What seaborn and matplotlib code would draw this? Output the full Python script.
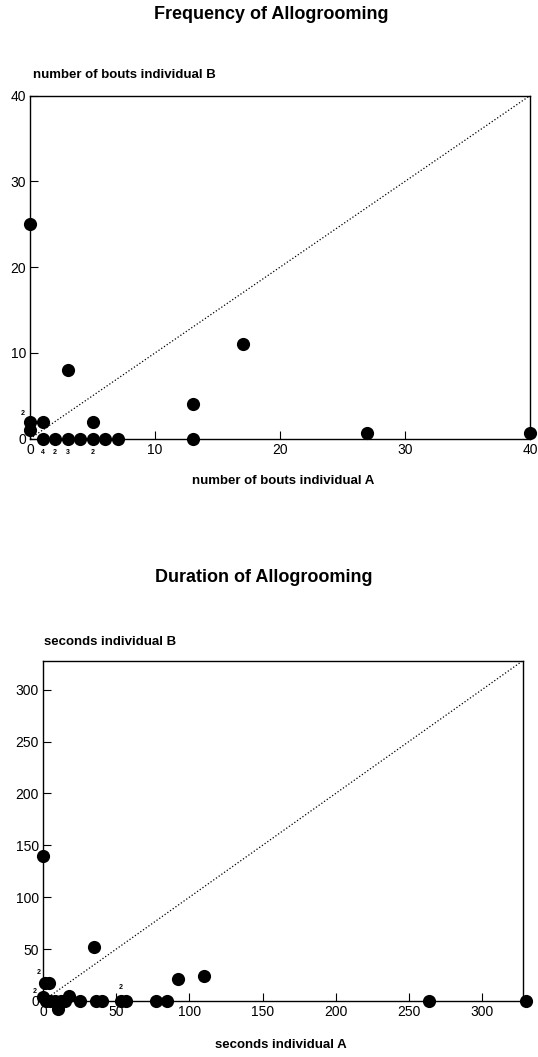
import numpy as np
import pandas as pd
import seaborn as sns
import matplotlib.pyplot as plt

# frequency of allogrooming (number of bouts)
freq_a = [0, 0, 0, 1, 3, 5, 13, 17, 27, 40, 1, 2, 3, 4, 5, 6, 7, 13]
freq_b = [25, 2, 1, 2, 8, 2, 4, 11, 0.7, 0.7, 0, 0, 0, 0, 0, 0, 0, 0]
# small multiplicity numbers written next to stacked points
freq_note_x = [-0.6, 1, 2, 3, 5]
freq_note_y = [2.9, -1.6, -1.6, -1.6, -1.6]
freq_note_txt = ['2', '4', '2', '3', '2']

# duration of allogrooming (seconds)
dur_a = [0, 35, 92, 110, 264, 330, 1, 4, 0, 2, 5, 8, 12, 15, 10, 18, 25,
         36, 40, 53, 57, 77, 85]
dur_b = [140, 52, 21, 24, 0, 0, 17, 17, 4, 0, 0, 0, 0, 0, -8, 5, 0,
         0, 0, 0, 0, 0, 0]
dur_note_x = [-3, -6, 53]
dur_note_y = [27, 9, 13]
dur_note_txt = ['2', '2', '2']

freq = pd.DataFrame({'A': freq_a, 'B': freq_b})
dur = pd.DataFrame({'A': dur_a, 'B': dur_b})

sns.set_theme(style='white')
plt.rcParams['font.family'] = ['Liberation Sans', 'DejaVu Sans']
plt.rcParams['text.color'] = 'black'

fig = plt.figure(figsize=(5.38, 10.57), dpi=100)


def panel(ax, df, lim, ticks, nx, ny, nt):
    ax.plot([0, lim], [0, lim], ls=':', color='black', lw=0.9)
    sns.scatterplot(data=df, x='A', y='B', ax=ax, color='black', s=90,
                    edgecolor='black', linewidth=0, clip_on=False, zorder=5)
    for x, y, t in zip(nx, ny, nt):
        ax.text(x, y, t, fontsize=5, fontweight='bold', ha='center',
                va='center', clip_on=False)
    ax.set_xlim(0, lim)
    ax.set_ylim(0, lim)
    ax.set_xticks(ticks)
    ax.set_yticks(ticks)
    ax.set_xlabel('')
    ax.set_ylabel('')
    ax.tick_params(direction='in', length=6, width=0.8, color='black',
                   labelsize=10, labelcolor='black', pad=3,
                   left=True, bottom=True)
    for s in ax.spines.values():
        s.set_color('black')
        s.set_linewidth(1.0)


ax1 = fig.add_axes([0.056, 0.585, 0.929, 0.3245])
panel(ax1, freq, 40, [0, 10, 20, 30, 40], freq_note_x, freq_note_y, freq_note_txt)

ax2 = fig.add_axes([0.080, 0.053, 0.892, 0.322])
panel(ax2, dur, 328, [0, 50, 100, 150, 200, 250, 300], dur_note_x, dur_note_y, dur_note_txt)

fig.text(0.505, 0.986, 'Frequency of Allogrooming', ha='center', va='center',
         fontsize=13, fontweight='bold', color='black')
fig.text(0.061, 0.929, 'number of bouts individual B', ha='left', va='center',
         fontsize=9.5, fontweight='bold', color='black')
fig.text(0.526, 0.545, 'number of bouts individual A', ha='center', va='center',
         fontsize=9.5, fontweight='bold', color='black')

fig.text(0.491, 0.454, 'Duration of Allogrooming', ha='center', va='center',
         fontsize=13, fontweight='bold', color='black')
fig.text(0.082, 0.393, 'seconds individual B', ha='left', va='center',
         fontsize=9.5, fontweight='bold', color='black')
fig.text(0.523, 0.011, 'seconds individual A', ha='center', va='center',
         fontsize=9.5, fontweight='bold', color='black')

fig.savefig('out.png', dpi=100)
